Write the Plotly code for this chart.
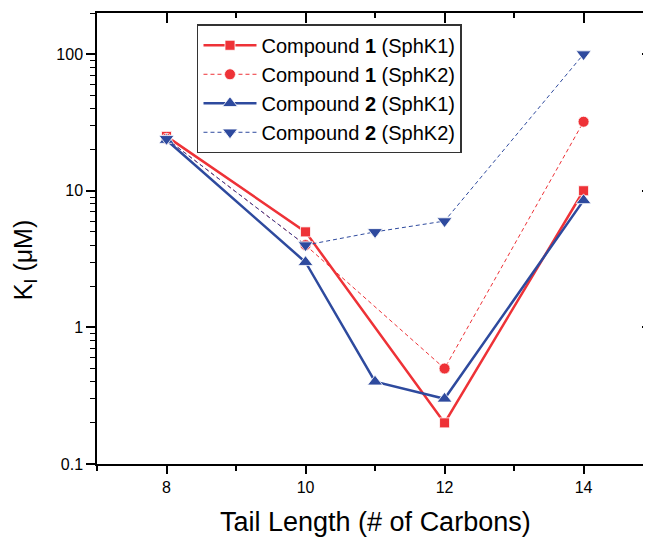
import plotly.graph_objects as go

# Data
x_c1 = [8, 10, 12, 14]
c1_sphk1 = [25, 5, 0.2, 10]
c1_sphk2 = [24, 4, 0.5, 32]
x_c2 = [8, 10, 11, 12, 14]
c2_sphk1 = [23.5, 3, 0.4, 0.3, 8.5]
c2_sphk2 = [24, 4, 5, 6, 100]

x_ticks = [8, 10, 12, 14]
y_ticks = [0.1, 1, 10, 100]
y_ticklabels = ["0.1", "1", "10", "100"]
y_minor = [m * d for d in [0.1, 1, 10, 100] for m in range(2, 10)]

x_title = "Tail Length (# of Carbons)"
y_title = "K<sub>I</sub> (μM)"

RED = "#EE3237"
BLUE = "#2E4A9E"
FONT = "Arial, Liberation Sans, sans-serif"

fig = go.Figure()
fig.add_trace(go.Scatter(x=x_c1, y=c1_sphk1, mode="lines+markers",
                         name="Compound <b>1</b> (SphK1)",
                         line=dict(color=RED, width=2.5),
                         marker=dict(symbol="square", size=10, color=RED,
                                     line=dict(color="white", width=0.8))))
fig.add_trace(go.Scatter(x=x_c1, y=c1_sphk2, mode="lines+markers",
                         name="Compound <b>1</b> (SphK2)",
                         line=dict(color=RED, width=1, dash="4px,3px"),
                         marker=dict(symbol="circle", size=11, color=RED,
                                     line=dict(color="white", width=0.8))))
fig.add_trace(go.Scatter(x=x_c2, y=c2_sphk1, mode="lines+markers",
                         name="Compound <b>2</b> (SphK1)",
                         line=dict(color=BLUE, width=2.5),
                         marker=dict(symbol="triangle-up", size=13, color=BLUE,
                                     line=dict(color="white", width=0.8))))
fig.add_trace(go.Scatter(x=x_c2, y=c2_sphk2, mode="lines+markers",
                         name="Compound <b>2</b> (SphK2)",
                         line=dict(color=BLUE, width=1, dash="4px,3px"),
                         marker=dict(symbol="triangle-down", size=13, color=BLUE,
                                     line=dict(color="white", width=0.8))))
# empty trace to activate the mirrored top/right axes
fig.add_trace(go.Scatter(x=[None], y=[None], xaxis="x2", yaxis="y2",
                         showlegend=False, hoverinfo="skip"))

xr = [7, 14.97]
yr = [-1, 2.301]

# page body has an 8px margin, so the figure is sized to fit the window
fig.update_layout(
    width=643, height=529,
    margin=dict(l=89, r=0, t=5, b=73, autoexpand=False),
    paper_bgcolor="white", plot_bgcolor="white",
    font=dict(family=FONT, color="black"),
    showlegend=True,
    legend=dict(x=0.1805, y=0.975, xanchor="left", yanchor="top",
                bgcolor="white", bordercolor="#333333", borderwidth=1.5,
                font=dict(size=20, family=FONT), tracegroupgap=0,
                itemwidth=53),
    xaxis=dict(range=xr, tickvals=x_ticks, ticks="outside", ticklen=8,
               tickwidth=1.5, tickcolor="black", showline=True,
               linecolor="black", linewidth=1.5, showgrid=False,
               zeroline=False, tickfont=dict(size=16), automargin=False,
               minor=dict(tickvals=[7, 9, 11, 13, 15], ticks="outside",
                          ticklen=5, tickwidth=1.5, tickcolor="black",
                          showgrid=False)),
    xaxis2=dict(range=xr, overlaying="x", side="top", anchor="y",
                tickvals=x_ticks, ticks="inside", ticklen=10, tickwidth=1.5,
                tickcolor="black", showticklabels=False, showline=True,
                linecolor="black", linewidth=1.5, showgrid=False,
                zeroline=False, automargin=False,
                minor=dict(tickvals=[7, 9, 11, 13, 15], ticks="inside",
                           ticklen=5, tickwidth=1.5, tickcolor="black",
                           showgrid=False)),
    yaxis=dict(type="log", range=yr, tickvals=y_ticks, ticktext=y_ticklabels,
               ticks="outside", ticklen=9, tickwidth=1.5, tickcolor="black",
               showline=True, linecolor="black", linewidth=1.5,
               showgrid=False, zeroline=False, tickfont=dict(size=16),
               automargin=False,
               minor=dict(tickvals=y_minor, ticks="outside", ticklen=5,
                          tickwidth=1.2, tickcolor="black", showgrid=False)),
    yaxis2=dict(type="log", range=yr, overlaying="y", side="right",
                anchor="x", tickvals=y_ticks, ticks="inside", ticklen=9,
                tickwidth=1.5, tickcolor="black", showticklabels=False,
                showline=False, showgrid=False, zeroline=False,
                automargin=False,
                minor=dict(tickvals=y_minor, ticks="inside", ticklen=5,
                           tickwidth=1.2, tickcolor="black", showgrid=False)),
    annotations=[
        dict(text=x_title, xref="paper", yref="paper", x=0.502, y=-0.092,
             xanchor="center", yanchor="top", showarrow=False,
             font=dict(size=27, family=FONT)),
        dict(text=y_title, xref="paper", yref="paper", x=-0.13, y=0.452,
             xanchor="center", yanchor="middle", textangle=-90,
             showarrow=False, font=dict(size=25, family=FONT)),
    ],
)

fig.write_html("out.html")
